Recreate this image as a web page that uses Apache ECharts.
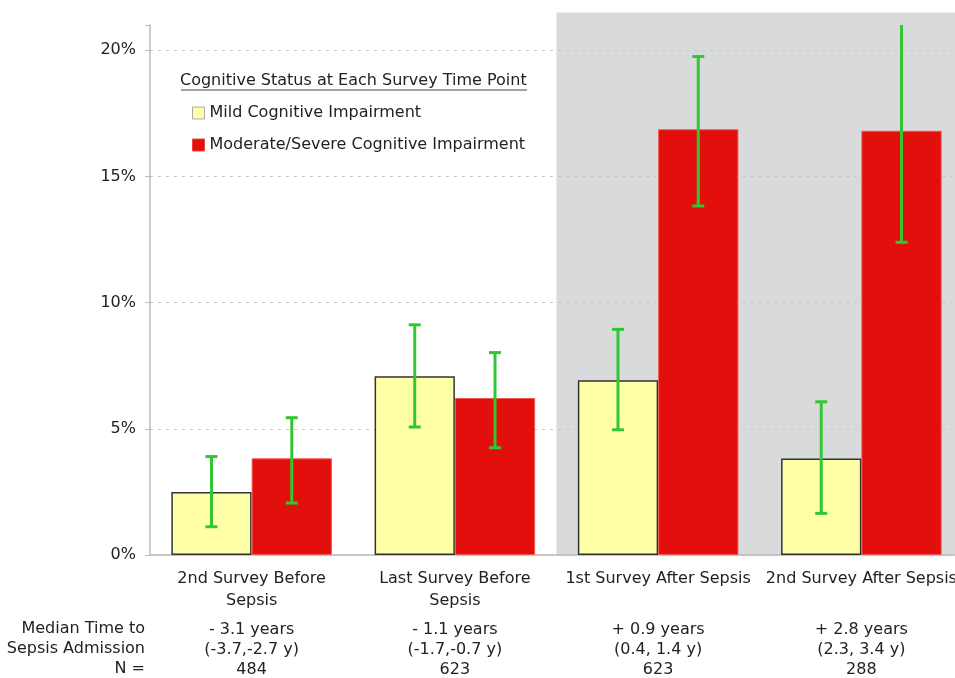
<!DOCTYPE html>
<html>
<head>
<meta charset="utf-8">
<script src="https://cdn.jsdelivr.net/npm/echarts@6/dist/echarts.min.js"></script>
<style>
  html, body { margin: 0; padding: 0; background: #fff; }
  #main { width: 955px; height: 678px; }
</style>
</head>
<body>
<div id="main"></div>
<script>
// categories and table rows
const categories = ['2nd Survey Before\nSepsis', 'Last Survey Before\nSepsis', '1st Survey After Sepsis', '2nd Survey After Sepsis']
const medianTime = ['- 3.1 years', '- 1.1 years', '+ 0.9 years', '+ 2.8 years']
const medianRange = ['(-3.7,-2.7 y)', '(-1.7,-0.7 y)', '(0.4, 1.4 y)', '(2.3, 3.4 y)']
const nCounts = ['484', '623', '623', '288']

// percentages
const mild = [2.5, 7.08, 6.92, 3.82]
const mildLow = [1.12, 5.07, 4.96, 1.65]
const mildHigh = [3.9, 9.12, 8.94, 6.07]
const severe = [3.83, 6.22, 16.87, 16.81]
const severeLow = [2.06, 4.25, 13.83, 12.39]
const severeHigh = [5.44, 8.02, 19.75, 21.5]

const yTicks = [0, 5, 10, 15, 20]

const FONT = 'DejaVu Sans'
const catGap = 0.21 // barCategoryGap

function errData(low, high) {
  return low.map((v, i) => [i, v, high[i]])
}

// 误差线
function errorBar(side) {
  return function (params, api) {
    const i = api.value(0)
    const lo = api.coord([i, api.value(1)])
    const hi = api.coord([i, api.value(2)])
    const band = api.size([1, 0])[0]
    const bw = band * (1 - catGap) / 2
    const x = lo[0] + side * bw / 2
    const cap = 6
    const style = { stroke: '#33c633', lineWidth: 3 }
    return {
      type: 'group',
      children: [
        { type: 'line', shape: { x1: x, y1: lo[1], x2: x, y2: hi[1] }, style },
        { type: 'line', shape: { x1: x - cap, y1: lo[1], x2: x + cap, y2: lo[1] }, style },
        { type: 'line', shape: { x1: x - cap, y1: hi[1], x2: x + cap, y2: hi[1] }, style }
      ]
    }
  }
}

const myChart = echarts.init(document.getElementById('main'))

myChart.setOption({
  animation: false,
  textStyle: { fontFamily: FONT },
  grid: { left: 150, width: 813, top: 25, bottom: 123, containLabel: false, outerBoundsMode: 'none' },
  title: {
    text: 'Cognitive Status at Each Survey Time Point',
    left: 180,
    top: 73,
    padding: 0,
    textStyle: { fontFamily: FONT, fontSize: 16, fontWeight: 'normal', color: '#222' }
  },
  legend: {
    orient: 'vertical',
    left: 192,
    top: 104,
    itemWidth: 12,
    itemHeight: 12,
    itemGap: 14,
    padding: 0,
    icon: 'rect',
    textStyle: { fontFamily: FONT, fontSize: 16, color: '#222', lineHeight: 18, padding: [0, 0, 0, 0] },
    data: [
      { name: 'Mild Cognitive Impairment', itemStyle: { borderColor: '#aaa', borderWidth: 1 } },
      { name: 'Moderate/Severe Cognitive Impairment', itemStyle: { borderColor: '#e44', borderWidth: 1 } }
    ]
  },
  xAxis: [{
    type: 'category',
    data: categories,
    position: 'bottom',
    axisLine: { lineStyle: { color: '#bbb', width: 1.5 } },
    axisTick: { show: false },
    axisLabel: { interval: 0, margin: 13, fontSize: 16, lineHeight: 22, color: '#222' }
  }, {
    type: 'category',
    data: categories,
    position: 'bottom',
    offset: 53,
    axisLine: { show: false },
    axisTick: { show: false },
    axisLabel: {
      interval: 0,
      margin: 12,
      fontSize: 16,
      lineHeight: 20,
      color: '#222',
      formatter: (v, i) => medianTime[i] + '\n' + medianRange[i] + '\n' + nCounts[i]
    }
  }],
  yAxis: {
    type: 'value',
    min: 0,
    max: 21,
    interval: 5,
    axisLine: { show: true, lineStyle: { color: '#bbb', width: 1.5 } },
    axisTick: { show: true, length: 5, lineStyle: { color: '#bbb' } },
    axisLabel: {
      margin: 14,
      fontSize: 16,
      color: '#222',
      formatter: v => (yTicks.indexOf(v) >= 0 ? v + '%' : '')
    },
    splitLine: { show: true, showMaxLine: false, lineStyle: { color: '#c8c8c8', type: [3, 5] } }
  },
  series: [{
    name: 'Mild Cognitive Impairment',
    type: 'bar',
    data: mild,
    barGap: 0,
    barCategoryGap: (catGap * 100) + '%',
    itemStyle: { color: '#ffffa8', borderColor: '#333', borderWidth: 1.5 }
  }, {
    name: 'Moderate/Severe Cognitive Impairment',
    type: 'bar',
    data: severe,
    barGap: 0,
    barCategoryGap: (catGap * 100) + '%',
    itemStyle: { color: '#e20f0c', borderColor: '#ee5a55', borderWidth: 1 }
  }, {
    type: 'custom',
    clip: true,
    z: 5,
    renderItem: errorBar(-1),
    encode: { x: 0, y: [1, 2] },
    data: errData(mildLow, mildHigh)
  }, {
    type: 'custom',
    clip: true,
    z: 5,
    renderItem: errorBar(1),
    encode: { x: 0, y: [1, 2] },
    data: errData(severeLow, severeHigh)
  }]
})

// shaded "after sepsis" region + legend title underline + row headers
const xA = myChart.convertToPixel({ xAxisIndex: 0 }, 1)
const xB = myChart.convertToPixel({ xAxisIndex: 0 }, 2)
const yTop = myChart.convertToPixel({ yAxisIndex: 0 }, 21.5)
const yZero = myChart.convertToPixel({ yAxisIndex: 0 }, 0)
const shadeLeft = (xA + xB) / 2

myChart.setOption({
  graphic: [{
    type: 'rect',
    z: -10,
    silent: true,
    shape: { x: shadeLeft, y: yTop, width: 955 - shadeLeft, height: yZero - yTop },
    style: { fill: '#d9dadc' }
  }, {
    type: 'line',
    shape: { x1: 181, y1: 90, x2: 527, y2: 90 },
    style: { stroke: '#444', lineWidth: 1 }
  }, {
    type: 'text',
    right: 955 - 145,
    top: 619,
    style: {
      text: 'Median Time to\nSepsis Admission\nN =',
      fontFamily: FONT,
      fontSize: 16,
      lineHeight: 20,
      fill: '#222',
      textAlign: 'right'
    }
  }]
})
</script>
</body>
</html>
